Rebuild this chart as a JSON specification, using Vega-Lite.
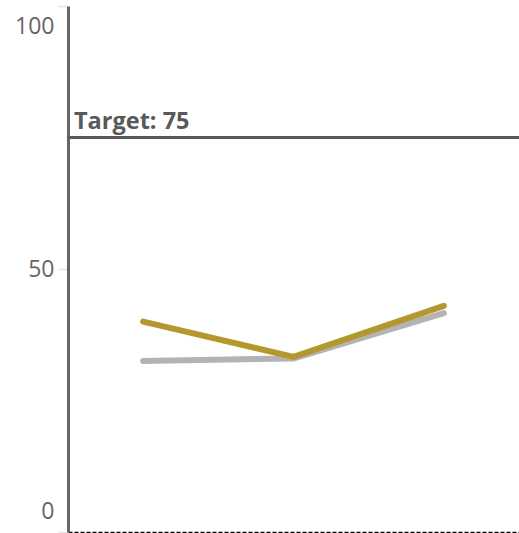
{
  "$schema": "https://vega.github.io/schema/vega-lite/v6.json",
  "width": 451,
  "height": 526,
  "autosize": {"type": "none"},
  "padding": {"left": 68, "top": 6, "right": 0, "bottom": 1},
  "background": "white",
  "config": {"view": {"stroke": null}, "font": "Open Sans"},
  "datasets": {
    "series": [
      {"period": "P1", "series": "Previous", "value": 32.5},
      {"period": "P2", "series": "Previous", "value": 33},
      {"period": "P3", "series": "Previous", "value": 41.6},
      {"period": "P1", "series": "Current", "value": 40},
      {"period": "P2", "series": "Current", "value": 33.3},
      {"period": "P3", "series": "Current", "value": 43}
    ],
    "target": [{"target": 75, "label": "Target: 75"}]
  },
  "layer": [
    {
      "data": {"name": "series"},
      "mark": {"type": "line", "strokeWidth": 6, "strokeCap": "round", "strokeJoin": "miter"},
      "encoding": {
        "x": {
          "field": "period", "type": "ordinal",
          "scale": {"type": "point", "padding": 0.5},
          "axis": {"title": null, "labels": false, "ticks": false, "domainDash": [4, 2], "domainColor": "#000000", "domainWidth": 1.5, "grid": false}
        },
        "y": {
          "field": "value", "type": "quantitative",
          "scale": {"domain": [0, 100], "nice": false},
          "axis": {
            "title": null, "values": [0, 50, 100], "grid": false,
            "domainColor": "#666666", "domainWidth": 3,
            "tickColor": "#e3e3e3", "tickSize": 10, "tickWidth": 1.5,
            "labelFontSize": 23, "labelColor": "#666666", "labelPadding": 4,
            "labelFlush": true, "labelFlushOffset": -9
          }
        },
        "color": {
          "field": "series", "type": "nominal",
          "scale": {"domain": ["Previous", "Current"], "range": ["#b3b3b3", "#b5982d"]},
          "legend": null
        },
        "order": {"field": "period"},
        "detail": {"field": "series"}
      }
    },
    {
      "data": {"name": "target"},
      "mark": {"type": "rule", "color": "#595959", "strokeWidth": 3},
      "encoding": {"y": {"field": "target", "type": "quantitative"}}
    },
    {
      "data": {"name": "target"},
      "mark": {"type": "text", "align": "left", "baseline": "alphabetic", "dx": 6, "dy": -9, "fontSize": 23.5, "fontWeight": "bold", "color": "#595959"},
      "encoding": {
        "x": {"value": 0},
        "y": {"field": "target", "type": "quantitative"},
        "text": {"field": "label"}
      }
    }
  ]
}
